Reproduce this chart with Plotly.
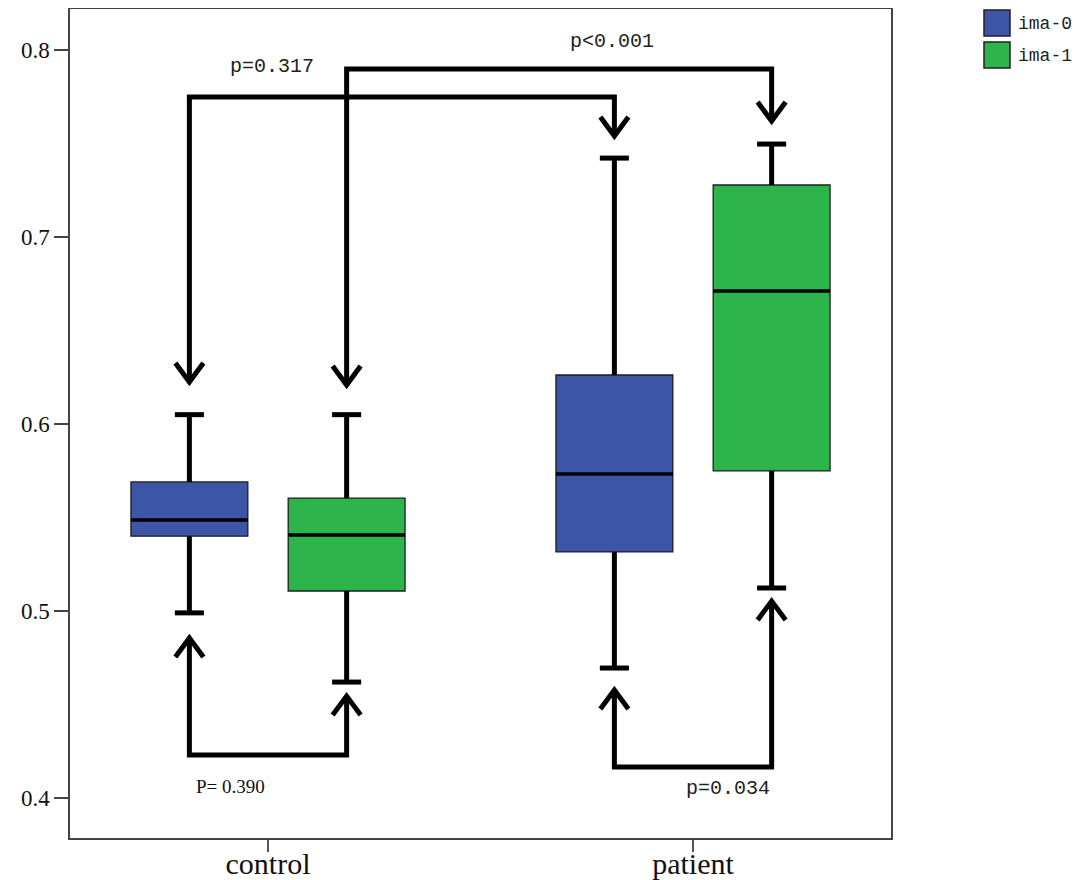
import plotly.graph_objects as go

# ---------------- data ----------------
categories = ["control", "patient"]
groups = ["ima-0", "ima-1"]

q1 = {"ima-0": [0.540, 0.5316], "ima-1": [0.5107, 0.5749]}
median = {"ima-0": [0.5487, 0.5733], "ima-1": [0.5406, 0.6711]}
q3 = {"ima-0": [0.5690, 0.6262], "ima-1": [0.5604, 0.7278]}
lower = {"ima-0": [0.4990, 0.4695], "ima-1": [0.4620, 0.5123]}
upper = {"ima-0": [0.6050, 0.7422], "ima-1": [0.6050, 0.7497]}

y_ticks = [0.4, 0.5, 0.6, 0.7, 0.8]
y_ticktext = ["0.4", "0.5", "0.6", "0.7", "0.8"]

# comparisons: label, from (cat, group), to (cat, group), bracket level, tip from, tip to, label x, label y, font
comparisons = [
    ("p=0.317", (0, "ima-0"), (1, "ima-0"), 0.7749, 0.6225, 0.7540, 0.009, 0.7914, "mono"),
    ("p<0.001", (0, "ima-1"), (1, "ima-1"), 0.7898, 0.6209, 0.7620, 0.809, 0.8043, "mono"),
    ("P= 0.390", (0, "ima-0"), (0, "ima-1"), 0.4230, 0.4856, 0.4545, -0.089, 0.4059, "serif"),
    ("p=0.034", (1, "ima-0"), (1, "ima-1"), 0.4166, 0.4578, 0.5053, 1.082, 0.4053, "mono"),
]

colors = {"ima-0": "#3c55a6", "ima-1": "#2db44a"}

# ---------------- layout geometry (page pixels) ----------------
W, H = 1084, 880
OFF = 8                                   # page body margin
PL, PR, PT, PB = 70, 891, 9, 838          # plot area in page pixels
X0_PX, X1_PX = 268, 693                   # pixel of category 0 and 1
PX_PER_X = X1_PX - X0_PX
Y_04_PX, PX_PER_Y = 798, 1870
xr = [-(X0_PX - PL) / PX_PER_X, 1 + (PR - X1_PX) / PX_PER_X]
yr = [0.4 - (PB - Y_04_PX) / PX_PER_Y, 0.4 + (Y_04_PX - PT) / PX_PER_Y]

offset = {"ima-0": -0.185, "ima-1": 0.185}
box_w = 0.275
cap_w = 29 / PX_PER_X

fig = go.Figure()

for g in groups:
    xs = [i + offset[g] for i in range(len(categories))]
    fig.add_trace(go.Box(
        x=xs, q1=q1[g], median=median[g], q3=q3[g],
        lowerfence=lower[g], upperfence=upper[g],
        width=box_w, fillcolor=colors[g], whiskerwidth=cap_w / box_w,
        line=dict(color="#1e1e1e", width=1.3),
        name=g, showlegend=False, hoverinfo="skip",
    ))

for g in groups:
    xs = [i + offset[g] for i in range(len(categories))]
    wx, wy, cx, cy, mx, my = [], [], [], [], [], []
    for i, x in enumerate(xs):
        wx += [x, x, None, x, x, None]
        wy += [q3[g][i], upper[g][i], None, q1[g][i], lower[g][i], None]
        for v in (upper[g][i], lower[g][i]):
            cx += [x - cap_w / 2, x + cap_w / 2, None]
            cy += [v, v, None]
        mx += [x - box_w / 2, x + box_w / 2, None]
        my += [median[g][i], median[g][i], None]
    fig.add_trace(go.Scatter(x=wx, y=wy, mode="lines", line=dict(color="black", width=5),
                             showlegend=False, hoverinfo="skip"))
    fig.add_trace(go.Scatter(x=cx, y=cy, mode="lines", line=dict(color="black", width=5),
                             showlegend=False, hoverinfo="skip"))
    fig.add_trace(go.Scatter(x=mx, y=my, mode="lines", line=dict(color="black", width=3.5),
                             showlegend=False, hoverinfo="skip"))

shapes = []
annotations = []
ah_dx = 14 / PX_PER_X
ah_dy = 19 / PX_PER_Y
for label, a, b, level, tip_a, tip_b, lx, ly, fnt in comparisons:
    xa = a[0] + offset[a[1]]
    xb = b[0] + offset[b[1]]
    path = f"M {xa},{tip_a} L {xa},{level} L {xb},{level} L {xb},{tip_b}"
    shapes.append(dict(type="path", path=path, xref="x", yref="y",
                       line=dict(color="black", width=5), layer="above"))
    for x, tip in ((xa, tip_a), (xb, tip_b)):
        d = ah_dy if level > tip else -ah_dy
        head = f"M {x - ah_dx},{tip + d} L {x},{tip} L {x + ah_dx},{tip + d}"
        shapes.append(dict(type="path", path=head, xref="x", yref="y",
                           line=dict(color="black", width=5), layer="above"))
    if fnt == "mono":
        font = dict(family="Liberation Mono", size=20, color="#222")
    else:
        font = dict(family="Liberation Serif", size=19, color="#111")
    annotations.append(dict(x=lx, y=ly, xref="x", yref="y", text=label, showarrow=False,
                            font=font, xanchor="center", yanchor="middle"))

# custom legend (outside plot area, right)
def px_to_paper_x(px):
    return (px - PL) / (PR - PL)

def px_to_paper_y(py):
    return (PB - py) / (PB - PT)

leg_tops = [10, 42]
for g, top in zip(groups, leg_tops):
    shapes.append(dict(type="rect", xref="paper", yref="paper",
                       x0=px_to_paper_x(984), x1=px_to_paper_x(1010),
                       y0=px_to_paper_y(top + 26), y1=px_to_paper_y(top),
                       fillcolor=colors[g], line=dict(color="#222", width=1.5), layer="above"))
    annotations.append(dict(x=px_to_paper_x(1016), y=px_to_paper_y(top + 14),
                            xref="paper", yref="paper", text=g, showarrow=False,
                            xanchor="left", yanchor="middle",
                            font=dict(family="Liberation Mono", size=18, color="#222")))

fig.update_layout(
    width=W, height=H,
    margin=dict(l=PL - OFF, r=W - (PR - OFF), t=PT - OFF, b=H - (PB - OFF), pad=0),
    paper_bgcolor="white", plot_bgcolor="white",
    showlegend=False, boxmode="overlay",
    shapes=shapes, annotations=annotations,
)
fig.update_xaxes(range=xr, tickvals=[0, 1], ticktext=categories, automargin=False,
                 tickfont=dict(family="Liberation Serif", size=30, color="#111"),
                 ticks="outside", ticklen=12, tickwidth=2, tickcolor="#555",
                 ticklabelstandoff=-14,
                 showline=True, mirror=True, linecolor="#444", linewidth=1.5,
                 showgrid=False, zeroline=False)
fig.update_yaxes(range=yr, tickvals=y_ticks, ticktext=y_ticktext, automargin=False,
                 tickfont=dict(family="Liberation Serif", size=23, color="#111"),
                 ticks="outside", ticklen=14, tickwidth=2, tickcolor="#444",
                 showline=True, mirror=True, linecolor="#444", linewidth=1.5,
                 showgrid=False, zeroline=False)

fig.write_html("out.html")
